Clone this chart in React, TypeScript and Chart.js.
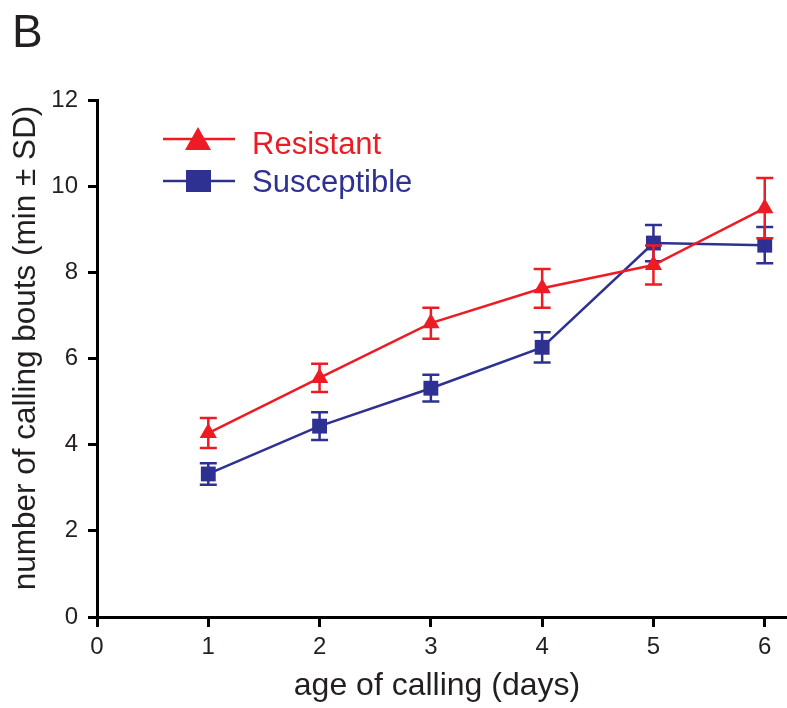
import React, { useEffect, useRef } from "react";
import { Chart, registerables } from "chart.js";

Chart.register(...registerables);

const days = [1, 2, 3, 4, 5, 6];
const resistantMean = [4.27, 5.55, 6.82, 7.63, 8.17, 9.49];
const resistantSD = [0.35, 0.33, 0.36, 0.45, 0.45, 0.7];
const susceptibleMean = [3.32, 4.43, 5.31, 6.26, 8.68, 8.63];
const susceptibleSD = [0.25, 0.32, 0.31, 0.35, 0.42, 0.42];
const xTicks = [0, 1, 2, 3, 4, 5, 6];
const yTicks = [0, 2, 4, 6, 8, 10, 12];

const RED = "#ED1C24";
const BLUE = "#2E3192";
const FONT = '"Liberation Sans", Arial, Helvetica, sans-serif';

const sdList = [resistantSD, susceptibleSD];

const errorBarPlugin = {
  id: "errorBars",
  afterDatasetDraw(chart: any, args: any) {
    const idx = args.index;
    const ds = chart.data.datasets[idx];
    const sds = sdList[idx];
    const xs = chart.scales.x;
    const ys = chart.scales.y;
    const ctx = chart.ctx;
    ctx.save();
    ctx.strokeStyle = ds.borderColor;
    ctx.lineWidth = 2.5;
    ds.data.forEach((p: any, i: number) => {
      const x = xs.getPixelForValue(p.x);
      const yTop = ys.getPixelForValue(p.y + sds[i]);
      const yBot = ys.getPixelForValue(p.y - sds[i]);
      ctx.beginPath();
      ctx.moveTo(x, yTop);
      ctx.lineTo(x, yBot);
      ctx.moveTo(x - 8.5, yTop);
      ctx.lineTo(x + 8.5, yTop);
      ctx.moveTo(x - 8.5, yBot);
      ctx.lineTo(x + 8.5, yBot);
      ctx.stroke();
    });
    ctx.restore();
  },
};

const decorPlugin = {
  id: "decor",
  afterDraw(chart: any) {
    const ctx = chart.ctx;
    ctx.save();
    ctx.fillStyle = "#231F20";
    // panel letter
    ctx.font = `46px ${FONT}`;
    ctx.textAlign = "left";
    ctx.textBaseline = "alphabetic";
    ctx.fillText("B", 12, 47);
    // x title
    ctx.font = `32px ${FONT}`;
    ctx.textAlign = "center";
    ctx.fillText("age of calling (days)", 437, 695);
    // y title
    ctx.save();
    ctx.translate(35, 348);
    ctx.rotate(-Math.PI / 2);
    ctx.font = `31.5px ${FONT}`;
    ctx.textAlign = "center";
    ctx.fillText("number of calling bouts (min \u00B1 SD)", 0, 0);
    ctx.restore();

    // legend
    const items = [
      { label: "Resistant", color: RED, style: "triangle", y: 139, base: 154 },
      { label: "Susceptible", color: BLUE, style: "rect", y: 181, base: 192 },
    ];
    items.forEach((it) => {
      ctx.strokeStyle = it.color;
      ctx.fillStyle = it.color;
      ctx.lineWidth = 2.5;
      ctx.beginPath();
      ctx.moveTo(163, it.y);
      ctx.lineTo(235, it.y);
      ctx.stroke();
      ctx.beginPath();
      if (it.style === "triangle") {
        ctx.moveTo(198, it.y - 12);
        ctx.lineTo(211, it.y + 11);
        ctx.lineTo(185, it.y + 11);
        ctx.closePath();
        ctx.fill();
      } else {
        ctx.fillRect(186, it.y - 11, 25, 22);
      }
      ctx.font = `31px ${FONT}`;
      ctx.textAlign = "left";
      ctx.textBaseline = "alphabetic";
      ctx.fillText(it.label, 252, it.base);
    });
    ctx.restore();
  },
};

export default function App() {
  const ref = useRef<HTMLCanvasElement | null>(null);
  useEffect(() => {
    if (!ref.current) return;
    const chart = new Chart(ref.current, {
      type: "line",
      data: {
        datasets: [
          {
            label: "Resistant",
            data: days.map((d, i) => ({ x: d, y: resistantMean[i] })),
            borderColor: RED,
            backgroundColor: RED,
            borderWidth: 2.5,
            pointStyle: "triangle",
            pointRadius: 10,
            pointBorderWidth: 0,
            pointHoverRadius: 10,
            tension: 0,
          },
          {
            label: "Susceptible",
            data: days.map((d, i) => ({ x: d, y: susceptibleMean[i] })),
            borderColor: BLUE,
            backgroundColor: BLUE,
            borderWidth: 2.5,
            pointStyle: "rect",
            pointRadius: 10.5,
            pointBorderWidth: 0,
            pointHoverRadius: 10.5,
            tension: 0,
          },
        ],
      },
      options: {
        animation: false,
        responsive: false,
        events: [],
        layout: { autoPadding: false, padding: { top: 100, left: 0, right: 0, bottom: 0 } },
        plugins: {
          legend: { display: false },
          tooltip: { enabled: false },
          title: { display: false },
        },
        scales: {
          x: {
            type: "linear",
            min: 0,
            max: 6.2,
            afterFit: (s: any) => {
              s.height = 91;
              s.paddingRight = 0;
              s.paddingLeft = 0;
            },
            afterBuildTicks: (s: any) => {
              s.ticks = xTicks.map((v) => ({ value: v }));
            },
            ticks: {
              stepSize: 1,
              includeBounds: false,
              color: "#231F20",
              font: { family: FONT, size: 24 },
              padding: 6,
              maxRotation: 0,
            },
            grid: {
              drawOnChartArea: false,
              drawTicks: true,
              tickLength: 10,
              tickColor: "#000",
              tickWidth: 3,
            },
            border: { color: "#000", width: 3 },
          },
          y: {
            type: "linear",
            min: 0,
            max: 12,
            afterFit: (s: any) => {
              s.width = 97;
            },
            afterBuildTicks: (s: any) => {
              s.ticks = yTicks.map((v) => ({ value: v }));
            },
            ticks: {
              stepSize: 2,
              color: "#231F20",
              font: { family: FONT, size: 24 },
              padding: 10,
            },
            grid: {
              drawOnChartArea: false,
              drawTicks: true,
              tickLength: 9,
              tickColor: "#000",
              tickWidth: 3,
            },
            border: { color: "#000", width: 3 },
          },
        },
      },
      plugins: [errorBarPlugin, decorPlugin],
    } as any);
    return () => chart.destroy();
  }, []);
  return (
    <div
      style={{
        position: "fixed",
        left: 0,
        top: 0,
        width: 787,
        height: 708,
        background: "#fff",
      }}
    >
      <canvas ref={ref} width={787} height={708} style={{ width: 787, height: 708 }} />
    </div>
  );
}
